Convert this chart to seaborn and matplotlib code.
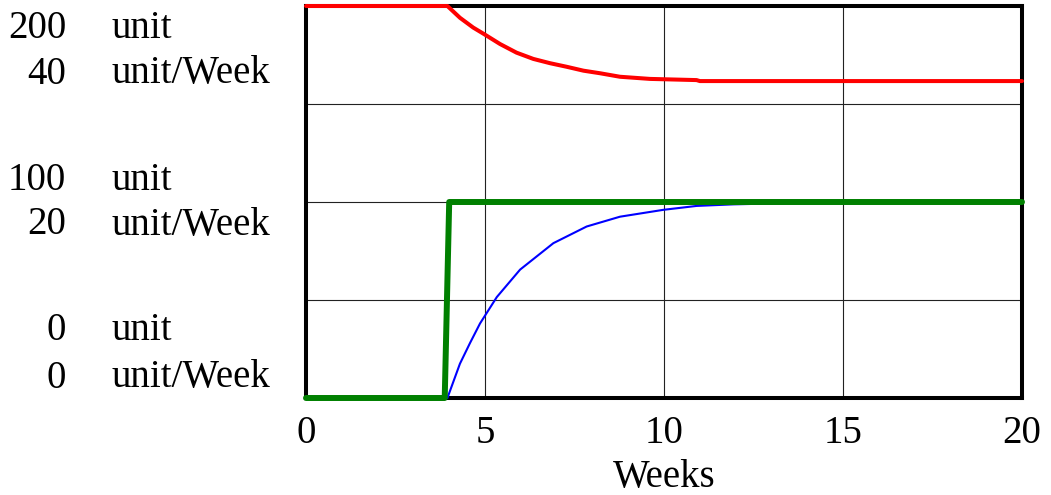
import matplotlib
matplotlib.use("Agg")
import matplotlib.pyplot as plt
import seaborn as sns
import pandas as pd

# ---- data ----
weeks_red = [0, 3.95, 4.30, 4.67, 4.98, 5.42, 5.88, 6.35, 6.82, 7.28, 7.75, 8.21, 8.77, 9.61, 10.91, 11.0, 20.0]
stock_units = [200, 200, 194.0, 189.0, 185.6, 180.6, 176.2, 173.0, 170.8, 169.0, 167.0, 165.7, 163.9, 162.8, 162.2, 161.7, 161.7]

weeks_blue = [0, 3.95, 4.3, 4.58, 4.86, 5.33, 5.98, 6.91, 7.84, 8.77, 9.98, 10.91, 11.94, 14, 17, 20]
outflow = [0, 0, 3.5, 5.6, 7.6, 10.3, 13.1, 15.8, 17.5, 18.5, 19.2, 19.6, 19.76, 19.93, 19.98, 20]

weeks_green = [0, 3.875, 4.0, 20]
inflow = [0, 0, 20, 20]

x_ticks = [0, 5, 10, 15, 20]
left_numbers = ["200", "40", "100", "20", "0", "0"]
left_units = ["unit", "unit/Week", "unit", "unit/Week", "unit", "unit/Week"]

# layout (pixel rows of the left labels)
label_rows = [28, 74, 181, 225, 331, 378]

sns.set_style("white")
plt.rcParams['font.family'] = ['Liberation Serif', 'DejaVu Serif']
plt.rcParams['text.color'] = 'black'
plt.rcParams['xtick.color'] = 'black'
plt.rcParams['axes.labelcolor'] = 'black'

FS = 28

fig = plt.figure(figsize=(10.51, 4.95), dpi=100)
ax = fig.add_axes([306/1051, 1 - 398/495, (1022-306)/1051, (398-6)/495])
ax2 = ax.twinx()

df_b = pd.DataFrame({"Weeks": weeks_blue, "v": outflow})
df_g = pd.DataFrame({"Weeks": weeks_green, "v": inflow})
df_r = pd.DataFrame({"Weeks": weeks_red, "v": stock_units})

sns.lineplot(data=df_b, x="Weeks", y="v", ax=ax, color="#0000ff", linewidth=1.5,
             estimator=None, sort=False, zorder=3, clip_on=False)
sns.lineplot(data=df_g, x="Weeks", y="v", ax=ax, color="#008000", linewidth=4.3,
             estimator=None, sort=False, zorder=4, clip_on=False)
sns.lineplot(data=df_r, x="Weeks", y="v", ax=ax2, color="#ff0000", linewidth=2.9,
             estimator=None, sort=False, zorder=4, clip_on=False)

ax.set_xlim(0, 20)
ax.set_ylim(0, 40)
ax2.set_ylim(0, 200)

ax.set_xticks(x_ticks)
ax.set_xticklabels([str(t) for t in x_ticks], fontsize=FS)
ax.set_yticks([0, 10, 20, 30, 40])
ax.set_yticklabels([])
ax2.set_yticks([])
ax.tick_params(axis='both', length=0, pad=12)
ax.grid(True, color="#222222", linewidth=0.8)
ax.set_axisbelow(True)
ax.set_xlabel("Weeks", fontsize=FS, labelpad=5)
ax.set_ylabel("")
ax2.set_ylabel("")

for s in ax.spines.values():
    s.set_linewidth(2.9)
    s.set_color("black")
    s.set_zorder(2)
for s in ax2.spines.values():
    s.set_visible(False)

for num, unit, row in zip(left_numbers, left_units, label_rows):
    yfig = 1 - row / 495
    fig.text(66/1051, yfig, num, ha="right", va="center", fontsize=FS)
    fig.text(112/1051, yfig, unit, ha="left", va="center", fontsize=FS)

fig.savefig("out.png", dpi=100)
